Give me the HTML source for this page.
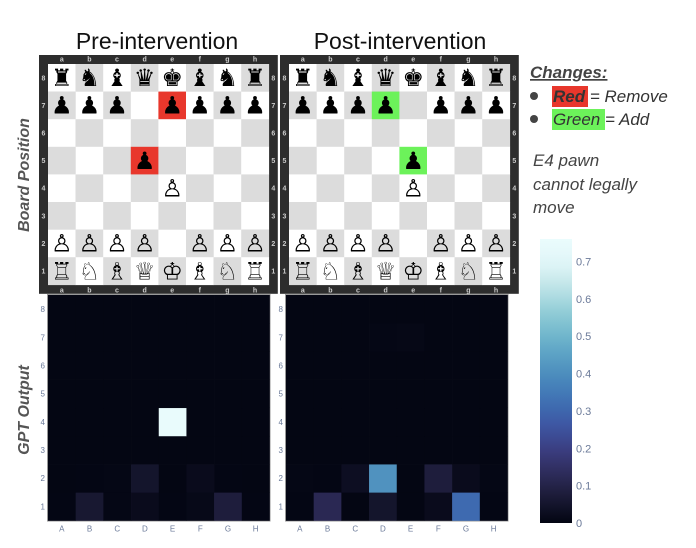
<!DOCTYPE html>
<html><head><meta charset="utf-8"><style>
html,body{margin:0;padding:0;background:#fff;}
svg{display:block;font-family:"Liberation Sans","DejaVu Sans",sans-serif;}
</style></head><body>
<svg id="fig" width="696" height="548" viewBox="0 0 696 548">
<text x="157" y="49" font-size="23" text-anchor="middle" fill="#111">Pre-intervention</text>
<text x="400" y="49" font-size="23" text-anchor="middle" fill="#111">Post-intervention</text>
<text transform="translate(29,175) rotate(-90)" font-size="16" font-weight="bold" font-style="italic" fill="#555" text-anchor="middle">Board Position</text>
<text transform="translate(29,410) rotate(-90)" font-size="16" font-weight="bold" font-style="italic" fill="#555" text-anchor="middle">GPT Output</text>
<g>
<text x="530" y="78" font-size="17" font-weight="bold" font-style="italic" fill="#444" text-decoration="underline">Changes:</text>
<circle cx="534" cy="96" r="4" fill="#444"/>
<rect x="552" y="86" width="36" height="21" fill="#e8372c"/>
<text x="553" y="102" font-size="17" font-style="italic" fill="#333"><tspan font-weight="bold">Red</tspan> = Remove</text>
<circle cx="534" cy="119" r="4" fill="#444"/>
<rect x="552" y="109" width="53" height="21" fill="#6cf25a"/>
<text x="553" y="125" font-size="17" font-style="italic" fill="#333">Green = Add</text>
</g>
<text font-size="17" font-style="italic" fill="#444"><tspan x="533" y="166">E4 pawn</tspan><tspan x="533" y="190">cannot legally</tspan><tspan x="533" y="213">move</tspan></text>
<g id="boards"></g>
<g id="heat"></g>
<g id="cbar"></g>
</svg>
<script>
const files = ["a","b","c","d","e","f","g","h"];
const heatCols = ["A","B","C","D","E","F","G","H"];
const heatRows = ["1","2","3","4","5","6","7","8"];
// heat values [rank1..rank8][A..H]
const preValues = [
 [0.004,0.06,0.006,0.02,0.003,0.012,0.08,0.003],
 [0.002,0.003,0.006,0.05,0.002,0.02,0.003,0.002],
 [0.002,0.002,0.002,0.002,0.002,0.002,0.002,0.002],
 [0.002,0.002,0.002,0.002,0.75,0.002,0.002,0.002],
 [0.002,0.002,0.002,0.002,0.002,0.002,0.002,0.002],
 [0.002,0.002,0.002,0.002,0.002,0.002,0.002,0.002],
 [0.002,0.002,0.002,0.002,0.002,0.002,0.002,0.002],
 [0.002,0.002,0.002,0.002,0.002,0.002,0.002,0.002]];
const postValues = [
 [0.003,0.12,0.002,0.05,0.002,0.02,0.31,0.003],
 [0.006,0.003,0.03,0.41,0.002,0.08,0.02,0.006],
 [0.002,0.002,0.002,0.002,0.002,0.002,0.002,0.002],
 [0.002,0.002,0.002,0.002,0.002,0.002,0.002,0.002],
 [0.002,0.002,0.002,0.002,0.002,0.002,0.002,0.002],
 [0.002,0.002,0.002,0.002,0.002,0.002,0.002,0.002],
 [0.002,0.002,0.002,0.005,0.008,0.002,0.002,0.002],
 [0.002,0.002,0.002,0.002,0.002,0.002,0.002,0.002]];
const cbarTicks = [0,0.1,0.2,0.3,0.4,0.5,0.6,0.7];
const zMax = 0.76;
const preBoard = ["rnbqkbnr","ppp.pppp","........","...p....","....P...","........","PPPP.PPP","RNBQKBNR"];
const postBoard = ["rnbqkbnr","pppp.ppp","........","....p...","....P...","........","PPPP.PPP","RNBQKBNR"];
const preHigh = {"e7":"#e8372c","d5":"#e8372c"};
const postHigh = {"d7":"#6cf25a","e5":"#6cf25a"};
const glyph = {r:"♜",n:"♞",b:"♝",q:"♛",k:"♚",p:"♟",R:"♖",N:"♘",B:"♗",Q:"♕",K:"♔",P:"♙"};
const ice = [[0,[3,5,18]],[0.0833,[25,25,51]],[0.1667,[44,42,87]],[0.25,[58,60,125]],[0.333,[62,83,160]],[0.4167,[62,109,178]],[0.5,[72,134,187]],[0.5833,[89,159,196]],[0.667,[114,184,205]],[0.75,[149,207,216]],[0.833,[192,229,232]],[0.9167,[226,246,248]],[1,[234,252,253]]];
function col(t){t=Math.max(0,Math.min(1,t));for(let i=1;i<ice.length;i++){if(t<=ice[i][0]){const a=ice[i-1],b=ice[i];const f=(t-a[0])/(b[0]-a[0]);const c=a[1].map((v,k)=>Math.round(v+(b[1][k]-v)*f));return `rgb(${c})`;}}return "rgb(234,252,253)";}
const NS="http://www.w3.org/2000/svg";
function mk(p,tag,at,txt){const e=document.createElementNS(NS,tag);for(const k in at)e.setAttribute(k,at[k]);if(txt!=null)e.textContent=txt;p.appendChild(e);return e;}
const SQ=27.6;
function board(ix,iy,pos,high,name){
 const g=mk(document.getElementById('boards'),'g',{});
 
 
 mk(g,'rect',{x:ix-9,y:iy-9,width:8*SQ+18,height:8*SQ+18,fill:'#2d2d2d'});
 for(let r=0;r<8;r++)for(let f=0;f<8;f++){
  const sq=files[f]+(8-r);
  const dark=(f+r)%2===1;
  const rc=mk(g,'rect',{x:ix+f*SQ,y:iy+r*SQ,width:SQ+0.3,height:SQ+0.3,fill:high[sq]||(dark?'#dcdcdc':'#ffffff')});
  
  
  const ch=pos[r][f];
  if(ch!=='.'){const t=mk(g,'text',{x:ix+f*SQ+SQ/2,y:iy+r*SQ+SQ*0.8,'font-size':24,'text-anchor':'middle',fill:'#000','font-family':'DejaVu Sans'},glyph[ch]);
   
   }
 }
 for(let f=0;f<8;f++){for(const y of [iy-2.5,iy+8*SQ+7.5])mk(g,'text',{x:ix+f*SQ+SQ/2,y:y,'font-size':7,'font-weight':'bold','text-anchor':'middle',fill:'#ccc'},files[f]);}
 for(let r=0;r<8;r++){for(const x of [ix-4.5,ix+8*SQ+4.5])mk(g,'text',{x:x,y:iy+r*SQ+SQ/2+2.5,'font-size':7,'font-weight':'bold','text-anchor':'middle',fill:'#ccc'},8-r);}
}
board(48,64,preBoard,preHigh,'pre-board');
board(289,64,postBoard,postHigh,'post-board');
function heat(x0,y0,vals,name){
 const W=221.5,H=225.5,cw=W/8,ch=H/8;
 const g=mk(document.getElementById('heat'),'g',{});
 
 
 const xs=i=>x0+i*cw, ys=j=>y0+(7-j)*ch;
 mk(g,'rect',{x:x0-1,y:y0-1,width:W+2,height:H+2,fill:'#999'});
 vals.forEach((row,j)=>row.forEach((v,i)=>{
  const c=mk(g,'rect',{x:xs(i),y:ys(j),width:cw+0.3,height:ch+0.3,fill:col(v/zMax)});
  
  
 }));
 heatCols.forEach((l,i)=>mk(g,'text',{x:xs(i)+cw/2,y:y0+H+11,'font-size':8,'text-anchor':'middle',fill:'#6b7a99'},l));
 heatRows.forEach((l,j)=>mk(g,'text',{x:x0-3,y:ys(j)+ch/2+3,'font-size':8,'text-anchor':'end',fill:'#6b7a99'},l));
}
heat(48,295,preValues,'pre-heatmap');
heat(286,295,postValues,'post-heatmap');
(function(){
 const g=document.getElementById('cbar');
 
 
 const x=540,top=239,bot=523,w=32;
 const defs=mk(g,'defs',{});const lg=mk(defs,'linearGradient',{id:'cg',x1:0,y1:1,x2:0,y2:0});
 for(let k=0;k<=20;k++)mk(lg,'stop',{offset:k/20,'stop-color':col(k/20)});
 mk(g,'rect',{x:x,y:top,width:w,height:bot-top,fill:'url(#cg)'});
 const ys=v=>bot-(v/zMax)*(bot-top);
 cbarTicks.forEach(v=>{const t=mk(g,'text',{x:x+w+4,y:ys(v)+4,'font-size':11,fill:'#6b7a99'},v===0?'0':v.toFixed(1));
  
  });
})();
</script>
</body></html>
